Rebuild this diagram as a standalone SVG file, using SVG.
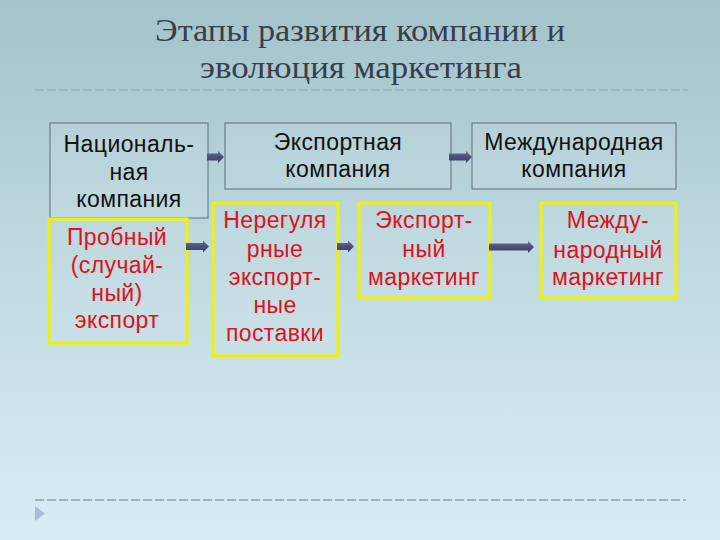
<svg xmlns="http://www.w3.org/2000/svg" width="720" height="540" viewBox="0 0 720 540">
<defs>
<linearGradient id="bg" x1="0" y1="0" x2="0" y2="1">
<stop offset="0" stop-color="#a4c2ca"/>
<stop offset="0.5" stop-color="#c0dbe1"/>
<stop offset="1" stop-color="#d6eef3"/>
</linearGradient>
<linearGradient id="ag" x1="0" y1="0" x2="0" y2="1">
<stop offset="0" stop-color="#6a7096"/>
<stop offset="0.5" stop-color="#4a5078"/>
<stop offset="1" stop-color="#3a3f62"/>
</linearGradient>
</defs>
<style>
.title{font-family:"Liberation Serif","DejaVu Serif",serif;font-size:32px;fill:#36404a;text-anchor:middle}
.blk{font-family:"Liberation Sans",Arial,sans-serif;font-size:23px;letter-spacing:0.4px;fill:#111;text-anchor:middle}
.red{font-family:"Liberation Sans",Arial,sans-serif;font-size:23px;letter-spacing:0.4px;fill:#dc1220;text-anchor:middle}
.gbox{fill:#ffffff;fill-opacity:0.08;stroke:#5d6d78;stroke-width:1}
.ybox{fill:#ffffff;fill-opacity:0.05;stroke:#f2f200;stroke-width:3}
.arr{fill:url(#ag)}
.dash{stroke:#9db7bf;stroke-width:2;stroke-dasharray:9 3;fill:none}
</style>
<rect x="0" y="0" width="720" height="540" fill="url(#bg)"/>
<text class="title" x="360" y="41" textLength="410" lengthAdjust="spacingAndGlyphs">Этапы развития компании и</text>
<text class="title" x="361" y="78" textLength="322" lengthAdjust="spacingAndGlyphs">эволюция маркетинга</text>
<path class="dash" d="M35 90 H688"/>
<path class="dash" d="M35 500 H686"/>
<path d="M35 506 L45 513.5 L35 521 Z" fill="#a9bdd8"/>

<g id="national">
<rect class="gbox" x="50" y="123" width="158" height="95"/>
<text class="blk" x="129" y="152">Националь-</text>
<text class="blk" x="129" y="180">ная</text>
<text class="blk" x="129" y="207">компания</text>
</g>
<g id="export-company">
<rect class="gbox" x="225" y="123" width="226" height="66"/>
<text class="blk" x="338" y="150">Экспортная</text>
<text class="blk" x="338" y="177">компания</text>
</g>
<g id="international-company">
<rect class="gbox" x="472" y="123" width="204" height="66"/>
<text class="blk" x="574" y="150">Международная</text>
<text class="blk" x="574" y="177">компания</text>
</g>
<g id="trial-export">
<rect class="ybox" x="49" y="219" width="138" height="124"/>
<text class="red" x="117" y="245">Пробный</text>
<text class="red" x="117" y="273">(случай-</text>
<text class="red" x="117" y="301">ный)</text>
<text class="red" x="117" y="328">экспорт</text>
</g>
<g id="irregular">
<rect class="ybox" x="213" y="203" width="125" height="153"/>
<text class="red" x="275" y="228">Нерегуля</text>
<text class="red" x="275" y="257">рные</text>
<text class="red" x="275" y="285">экспорт-</text>
<text class="red" x="275" y="313">ные</text>
<text class="red" x="275" y="341">поставки</text>
</g>
<g id="export-marketing">
<rect class="ybox" x="359" y="203" width="131" height="95"/>
<text class="red" x="424" y="228">Экспорт-</text>
<text class="red" x="424" y="257">ный</text>
<text class="red" x="424" y="285">маркетинг</text>
</g>
<g id="international-marketing">
<rect class="ybox" x="541" y="203" width="135" height="95"/>
<text class="red" x="608" y="228">Между-</text>
<text class="red" x="608" y="258">народный</text>
<text class="red" x="608" y="285">маркетинг</text>
</g>

<g id="connectors">
<path class="arr" d="M207 153.5 H218 V151 L224 157 L218 163 V160.5 H207 Z"/>
<path class="arr" d="M449 153.5 H466 V151 L472 157 L466 163 V160.5 H449 Z"/>
<path class="arr" d="M186 243 H203 V240.5 L209 246.5 L203 252.5 V250 H186 Z"/>
<path class="arr" d="M337 243 H348 V240.5 L354 246.5 L348 252.5 V250 H337 Z"/>
<path class="arr" d="M489 243.5 H528 V241 L534 247 L528 253 V250.5 H489 Z"/>
</g>
</svg>
